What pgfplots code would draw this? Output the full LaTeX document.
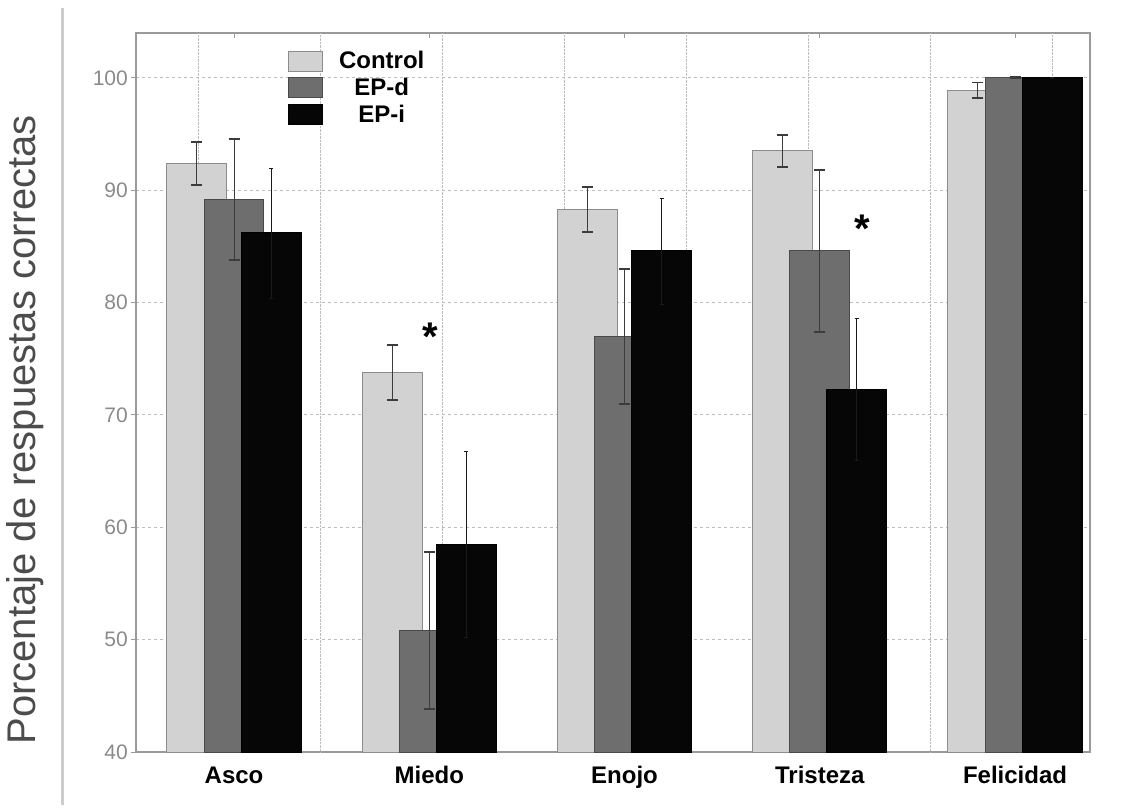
\documentclass[border=0pt]{standalone}
\usepackage{pgfplots}
\pgfplotsset{compat=1.18}
\usepackage{fontspec}
\setmainfont{Liberation Sans}

\definecolor{ctrlfill}{HTML}{D2D2D2}
\definecolor{ctrldraw}{HTML}{8C8C8C}
\definecolor{epdfill}{HTML}{6E6E6E}
\definecolor{epddraw}{HTML}{4A4A4A}
\definecolor{epifill}{HTML}{060606}
\definecolor{errcol}{HTML}{3C3C3C}
\definecolor{errdark}{HTML}{1A1A1A}
\definecolor{gridcol}{HTML}{BDBDBD}
\definecolor{framecol}{HTML}{9A9A9A}
\definecolor{tickcol}{HTML}{8A8A8A}

% Bars sit at group + offset (groups at 0..4, offsets -0.19 / 0 / +0.19)
\begin{document}
\begin{tikzpicture}[x=1pt,y=1pt]
\path[use as bounding box] (0,0) rectangle (1126,809);
% page margin rule
\draw[line width=3pt, color=black!20] (62,4) -- (62,801);
\begin{axis}[
  at={(136pt,57pt)}, anchor=south west,
  scale only axis, width=954pt, height=719pt,
  xmin=-0.502, xmax=4.384, ymin=40, ymax=104,
  axis line style={draw=framecol, line width=1.4pt},
  xtick={0,1,2,3,4},
  xticklabels={Asco,Miedo,Enojo,Tristeza,Felicidad},
  xtick pos=upper, xticklabel pos=lower, xtick align=inside,
  xticklabel style={font=\fontsize{24}{28}\selectfont\bfseries, yshift=-11pt},
  ytick={40,50,...,100}, ytick pos=left, ytick align=outside,
  yticklabel style={font=\fontsize{21}{24}\selectfont, text=tickcol, inner sep=3pt},
  /pgf/number format/assume math mode=true,
  major tick length=5pt,
  tick style={draw=framecol, line width=1pt},
  ymajorgrids,
  y grid style={dashed, color=gridcol, line width=1pt},
  extra x ticks={-0.184,0.441,1.066,1.691,2.316,2.941,3.566,4.191},
  extra x tick labels={},
  extra x tick style={grid=major, major tick length=0pt,
    major grid style={densely dotted, color=gridcol, line width=1pt}},
  ylabel={Porcentaje de respuestas correctas},
  ylabel style={font=\fontsize{40}{44}\selectfont, text=black!70,
    at={(axis description cs:-0.116,0.448)}, anchor=center},
  legend style={at={(axis description cs:0.156,0.980)}, anchor=north west,
    draw=none, fill=none, row sep=4pt,
    font=\fontsize{24}{26}\selectfont\bfseries,
    /tikz/every odd column/.append style={column sep=14pt}},
  legend cell align=center,
  legend image code/.code={\draw[#1, line width=1pt] (0pt,-10pt) rectangle (34pt,10pt);},
  error bars/error mark=|,
  error bars/error bar style={draw=errcol, line width=1pt},
  error bars/error mark options={draw=errcol, line width=1.8pt, mark size=5.5pt},
]
% Control
\addplot[ybar, bar width=0.307, bar shift=0, fill=ctrlfill, draw=ctrldraw, line width=1pt,
  error bars/.cd, y dir=both, y explicit]
  coordinates {
    (-0.19,92.4) +- (0,1.9)
    (0.81,73.8) +- (0,2.45)
    (1.81,88.3) +- (0,2.0)
    (2.81,93.5) +- (0,1.4)
    (3.81,98.9) +- (0,0.7)
  };
\addlegendentry{Control}
% EP-d
\addplot[ybar, bar width=0.307, bar shift=0, fill=epdfill, draw=epddraw, line width=1pt,
  error bars/.cd, y dir=both, y explicit]
  coordinates {
    (0,89.2) +- (0,5.4)
    (1,50.8) +- (0,7.0)
    (2,77.0) +- (0,6.0)
    (3,84.6) +- (0,7.2)
    (4,100.0) +- (0,0.05)
  };
\addlegendentry{EP-d}
% EP-i
\addplot[ybar, bar width=0.307, bar shift=0, fill=epifill, draw=black, line width=1pt,
  error bars/.cd, y dir=both, y explicit,
  error bar style={draw=errdark},
  error mark options={draw=errdark}]
  coordinates {
    (0.19,86.2) +- (0,5.8)
    (1.19,58.5) +- (0,8.3)
    (2.19,84.6) +- (0,4.7)
    (3.19,72.3) +- (0,6.3)
    (4.19,100.0) +- (0,0.05)
  };
\addlegendentry{EP-i}
% significance marks
\node[anchor=north, inner sep=0pt, font=\fontsize{40}{40}\selectfont\bfseries]
  at (axis cs:1.004,78.2) {*};
\node[anchor=north, inner sep=0pt, font=\fontsize{40}{40}\selectfont\bfseries]
  at (axis cs:3.22,87.8) {*};
\end{axis}
\end{tikzpicture}
\end{document}
